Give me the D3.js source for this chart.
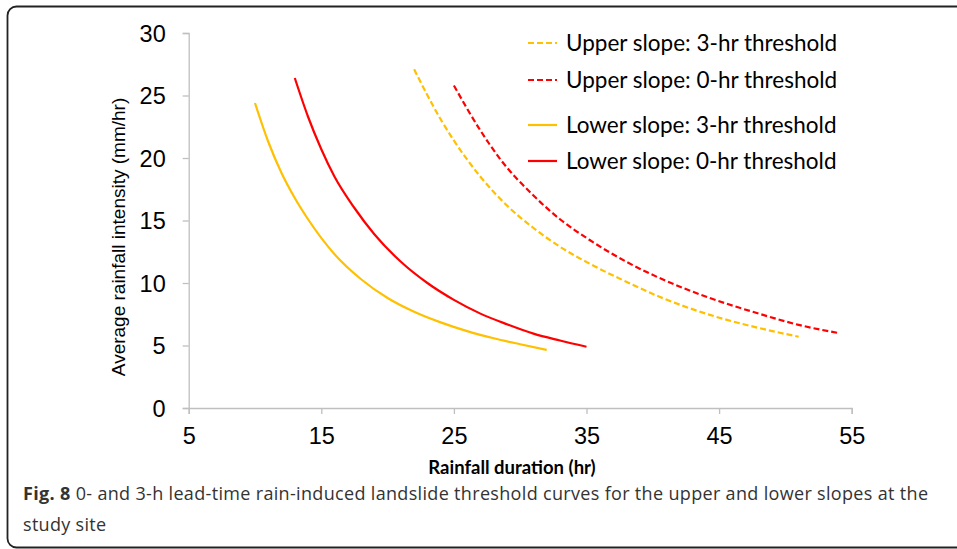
<!DOCTYPE html>
<html>
<head>
<meta charset="utf-8">
<script src="https://cdn.jsdelivr.net/npm/d3@7"></script>
<style>
  html, body { margin: 0; padding: 0; background: #fff; overflow: hidden; }
  svg { display: block; }
</style>
</head>
<body>
<svg id="chart" width="957" height="549"></svg>
<script>
// values (duration hr, intensity mm/hr)
const upper3hr = [
  [22, 27.1], [24, 23.1], [25, 21.4], [27, 18.5], [29, 16.2], [31, 14.4],
  [33, 12.9], [35.5, 11.4], [38, 10.1], [40.5, 8.9], [44.3, 7.45], [48, 6.4], [51, 5.7]
];
const upper0hr = [
  [25, 25.8], [27, 22.2], [28.5, 19.9], [31, 17.0], [33, 15.1], [35.3, 13.4],
  [38, 11.7], [40.5, 10.4], [44.3, 8.8], [48, 7.55], [51, 6.65], [54, 6.0]
];
const lower3hr = [
  [10, 24.4], [11, 21.3], [12, 18.8], [13, 16.8], [14, 15.1], [16, 12.3],
  [18, 10.3], [20, 8.8], [22, 7.7], [24, 6.85], [26, 6.15], [28, 5.58], [30, 5.1], [32, 4.65]
];
const lower0hr = [
  [13, 26.4], [14, 23.3], [15, 20.7], [16, 18.5], [17.5, 16.0], [19, 13.9],
  [21, 11.7], [23, 10.0], [25, 8.65], [27, 7.55], [29, 6.7], [31, 5.95], [33, 5.4], [35, 4.9]
];

const seriesNames = [
  'Upper slope: 3-hr threshold',
  'Upper slope: 0-hr threshold',
  'Lower slope: 3-hr threshold',
  'Lower slope: 0-hr threshold'
];
const xTicks = [5, 15, 25, 35, 45, 55];
const yTicks = [0, 5, 10, 15, 20, 25, 30];

const series = [
  { name: seriesNames[0], data: upper3hr, color: '#FFC000', dash: '6,3' },
  { name: seriesNames[1], data: upper0hr, color: '#FF0000', dash: '6,3' },
  { name: seriesNames[2], data: lower3hr, color: '#FFC000', dash: null },
  { name: seriesNames[3], data: lower0hr, color: '#FF0000', dash: null }
];

const svg = d3.select('#chart');

// frame around the figure
svg.append('rect')
  .attr('x', 7.5).attr('y', 6.5)
  .attr('width', 1000).attr('height', 541)
  .attr('rx', 9).attr('ry', 9)
  .attr('fill', 'none')
  .attr('stroke', '#222')
  .attr('stroke-width', 1.8);

const x = d3.scaleLinear().domain([5, 55]).range([188.7, 851.7]);
const y = d3.scaleLinear().domain([0, 30]).range([408, 33]);

const axisColor = '#bfbfbf';

const xAxis = svg.append('g')
  .attr('transform', `translate(0, ${ y(0) })`)
  .call(d3.axisBottom(x).tickValues(xTicks).tickSize(6).tickPadding(13).tickFormat(d3.format('d')));

const yAxis = svg.append('g')
  .attr('transform', `translate(${ x(5) }, 0)`)
  .call(d3.axisLeft(y).tickValues(yTicks).tickSize(6).tickPadding(17).tickFormat(d3.format('d')));

[xAxis, yAxis].forEach((g) => {
  g.select('.domain').attr('stroke', axisColor).attr('stroke-width', 1.3);
  g.selectAll('.tick line').attr('stroke', axisColor).attr('stroke-width', 1.3);
  g.selectAll('.tick text')
    .attr('fill', '#000')
    .style('font-family', 'Liberation Sans, Arial, sans-serif')
    .style('font-size', '23.5px');
});
xAxis.selectAll('.tick text').attr('dy', '0.71em');
yAxis.selectAll('.tick text').attr('dy', '0.36em');

// axis titles
svg.append('text')
  .attr('transform', 'translate(125, 237) rotate(-90)')
  .attr('text-anchor', 'middle')
  .style('font-family', 'Liberation Sans, Arial, sans-serif')
  .style('font-size', '19px')
  .text('Average rainfall intensity (mm/hr)');

svg.append('text')
  .attr('x', 512).attr('y', 474)
  .attr('text-anchor', 'middle')
  .style('font-family', 'Lato, sans-serif')
  .style('font-weight', 700)
  .style('font-size', '18.5px')
  .text('Rainfall duration (hr)');

// curves
const line = d3.line()
  .x((d) => x(d[0]))
  .y((d) => y(d[1]))
  .curve(d3.curveMonotoneX);

svg.append('g').selectAll('path')
  .data(series)
  .enter().append('path')
  .attr('d', (d) => line(d.data))
  .attr('fill', 'none')
  .attr('stroke', (d) => d.color)
  .attr('stroke-width', 2.2)
  .attr('stroke-dasharray', (d) => d.dash);

// legend
const legendY = [43, 80, 125, 161];
const legend = svg.append('g').selectAll('g')
  .data(series)
  .enter().append('g')
  .attr('transform', (d, i) => `translate(528, ${ legendY[i] })`);

legend.append('line')
  .attr('x1', 0).attr('x2', 29)
  .attr('stroke', (d) => d.color)
  .attr('stroke-width', 2.2)
  .attr('stroke-dasharray', (d) => d.dash);

legend.append('text')
  .attr('x', 38)
  .attr('dy', '0.35em')
  .style('font-family', 'Lato, sans-serif')
  .style('font-size', '22.5px')
  .text((d) => d.name);

// caption
const caption = svg.append('g')
  .style('font-family', 'Open Sans, sans-serif')
  .style('font-size', '18px')
  .attr('fill', '#333');

const cap1 = caption.append('text').attr('x', 23).attr('y', 500)
  .attr('textLength', 905).attr('lengthAdjust', 'spacing');
cap1.append('tspan').style('font-weight', 700).text('Fig. 8');
cap1.append('tspan').text(' 0- and 3-h lead-time rain-induced landslide threshold curves for the upper and lower slopes at the');

caption.append('text').attr('x', 23).attr('y', 531)
  .style('letter-spacing', '0.3px')
  .text('study site');
</script>
</body>
</html>
